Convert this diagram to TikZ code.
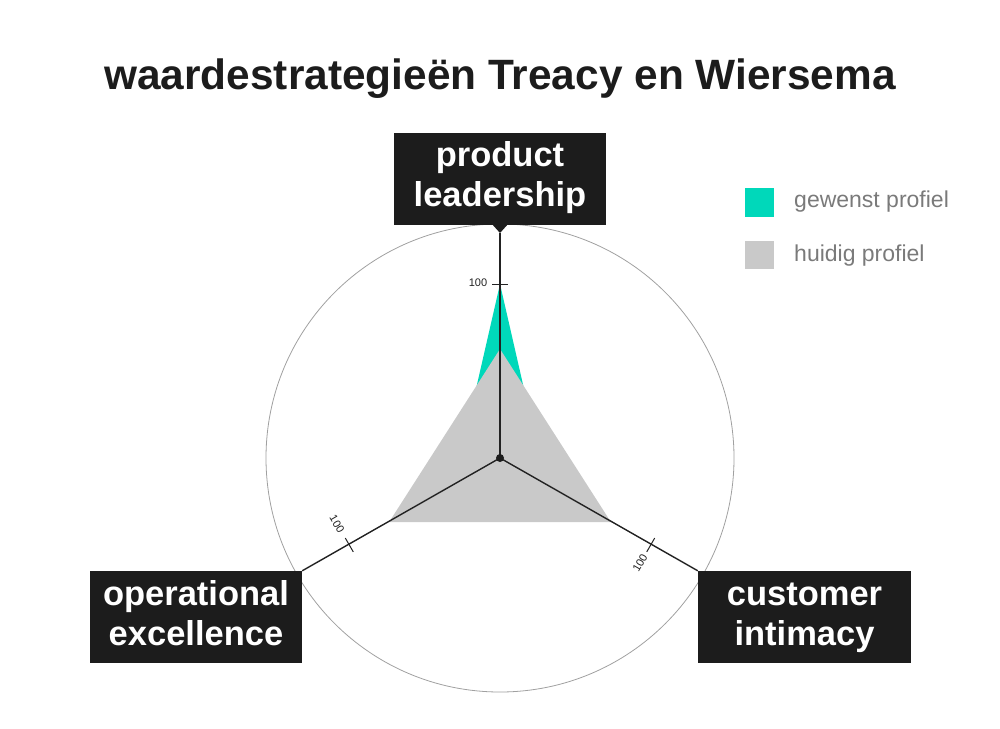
\documentclass[tikz,border=0pt]{standalone}
\usepackage{fontspec}
\setmainfont{Liberation Sans}
\usetikzlibrary{calc}
\definecolor{boxblack}{RGB}{28,28,28}
\definecolor{wishgreen}{RGB}{0,216,186}
\definecolor{nowgray}{RGB}{201,201,201}
\definecolor{legendtext}{RGB}{122,122,122}
\definecolor{axisdark}{RGB}{34,34,34}
\definecolor{ringgray}{RGB}{160,160,160}
\tikzset{
  labelbox/.style={fill=boxblack, text=white, inner sep=0pt, minimum width=212pt, minimum height=92pt,
    align=center, font=\bfseries\fontsize{34.5}{40}\selectfont},
  axisline/.style={draw=axisdark, line width=1.4pt},
  tickline/.style={draw=axisdark, line width=1pt},
  ticklabel/.style={text=axisdark, inner sep=0pt, font=\fontsize{11}{12}\selectfont},
  legendlabel/.style={text=legendtext, anchor=base west, inner sep=0pt, font=\fontsize{23}{26}\selectfont},
}
\begin{document}
\begin{tikzpicture}[x=1pt,y=-1pt]
\useasboundingbox (0,0) rectangle (1000,728);
% title
\node[anchor=base, inner sep=0pt, font=\bfseries\fontsize{42.4}{48}\selectfont, text=boxblack] (title) at (500,89) {waardestrategieën Treacy en Wiersema};
% centre
\coordinate (c) at (500,458);
% outer circle
\draw[ringgray, line width=0.8pt] (c) circle (234);
% profiles
\fill[wishgreen] ($(c)+(-90:174)$) -- ($(c)+(150:53)$) -- ($(c)+(30:53)$) -- cycle;
\fill[nowgray] ($(c)+(-90:109)$) -- ($(c)+(150:128)$) -- ($(c)+(30:128)$) -- cycle;
% label boxes
\node[labelbox] (pl) at (500,178.5) {\strut product\\\strut leadership};
\coordinate (pltip) at (500,233);
\fill[boxblack] (491,223) -- (509,223) -- (pltip) -- cycle;
\node[labelbox] (oe) at (196,617) {\strut operational\\\strut excellence};
\node[labelbox, minimum width=213pt] (ci) at (804.5,617) {\strut customer\\\strut intimacy};
% axes
\draw[axisline] (c) -- (pltip);
\draw[axisline] (c) -- (oe.north east);
\draw[axisline] (c) -- (ci.north west);
% ticks
\foreach \a in {-90,30,150}{
  \draw[tickline] ($(c)+(\a:174)+(\a+90:8)$) -- ($(c)+(\a:174)+(\a-90:8)$);
}
\node[ticklabel] (t1) at (478,283) {100};
\node[ticklabel, rotate=-60] (t2) at (337,524) {100};
\node[ticklabel, rotate=60] (t3) at (640,563) {100};
% centre dot
\fill[boxblack] (c) circle (4);
% legend
\node[fill=wishgreen, minimum width=29pt, minimum height=29pt, inner sep=0pt] (lg1) at (759.5,202.5) {};
\node[fill=nowgray, minimum width=29pt, minimum height=28pt, inner sep=0pt] (lg2) at (759.5,255) {};
\node[legendlabel] (lt1) at (794,207) {gewenst profiel};
\node[legendlabel] (lt2) at (794,261) {huidig profiel};
\end{tikzpicture}
\end{document}
